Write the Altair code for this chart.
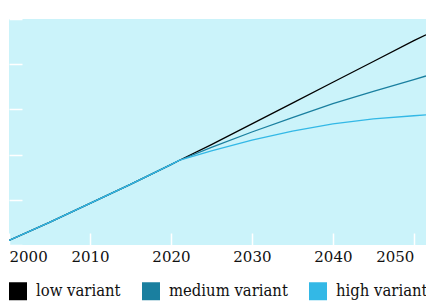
import altair as alt
import pandas as pd

years = [2000, 2005, 2010, 2015, 2020, 2021, 2025, 2030, 2035, 2040, 2045, 2050, 2051.5]
low = [6.10, 6.50, 6.92, 7.34, 7.78, 7.87, 8.22, 8.68, 9.14, 9.60, 10.06, 10.52, 10.65]
medium = [6.10, 6.50, 6.92, 7.34, 7.78, 7.87, 8.16, 8.50, 8.82, 9.13, 9.40, 9.66, 9.74]
high = [6.10, 6.50, 6.92, 7.34, 7.78, 7.87, 8.08, 8.32, 8.52, 8.68, 8.79, 8.86, 8.88]
series = ["low variant", "medium variant", "high variant"]
colors = ["#000000", "#1a7f9f", "#33b8e6"]
x_ticks = [2000, 2010, 2020, 2030, 2040, 2050]
y_ticks = [6, 7, 8, 9, 10, 11]

rows = []
for name, vals in zip(series, [low, medium, high]):
    for yr, v in zip(years, vals):
        rows.append({"year": yr, "value": v, "variant": name})
df = pd.DataFrame(rows)

font = "DejaVu Serif"
legend_font = "'DejaVu Serif Condensed', 'DejaVu Serif'"

chart = alt.Chart(df).mark_line(strokeWidth=1.3, clip=True).encode(
    x=alt.X("year:Q", scale=alt.Scale(domain=[2000, 2051.5], nice=False, zero=False),
            axis=alt.Axis(values=x_ticks, format="d", title=None, domain=False, ticks=False,
                          labelFlush=15, labelPadding=4, labelFont=font, labelFontSize=15,
                          labelColor="#111111", grid=True, gridColor="white", gridWidth=1.5,
                          gridDash=[12, 1000], gridDashOffset=798)),
    y=alt.Y("value:Q", scale=alt.Scale(domain=[6, 11], nice=False, zero=False),
            axis=alt.Axis(orient="right", values=y_ticks, title=None, domain=False, ticks=False,
                          labelPadding=5, labelFont=font, labelFontSize=15, labelColor="#111111",
                          grid=True, gridColor="white", gridWidth=1.5,
                          gridDash=[13, 1000], gridDashOffset=609)),
    color=alt.Color("variant:N", scale=alt.Scale(domain=series, range=colors),
                    legend=alt.Legend(orient="bottom", direction="horizontal", title=None,
                                      symbolType="square", symbolSize=81, symbolStrokeWidth=9,
                                      symbolOpacity=1, labelFont=legend_font, labelFontSize=16.5,
                                      labelColor="#111111", labelOffset=9, columnPadding=7,
                                      offset=18)),
).properties(
    width=417, height=226,
    padding={"left": 1, "top": 11, "right": 0, "bottom": 59},
    autosize=alt.AutoSizeParams(type="none"),
).configure_view(fill="#cbf3fa", stroke=None)

chart.save("out.html", embed_options={"renderer": "svg", "actions": False})
